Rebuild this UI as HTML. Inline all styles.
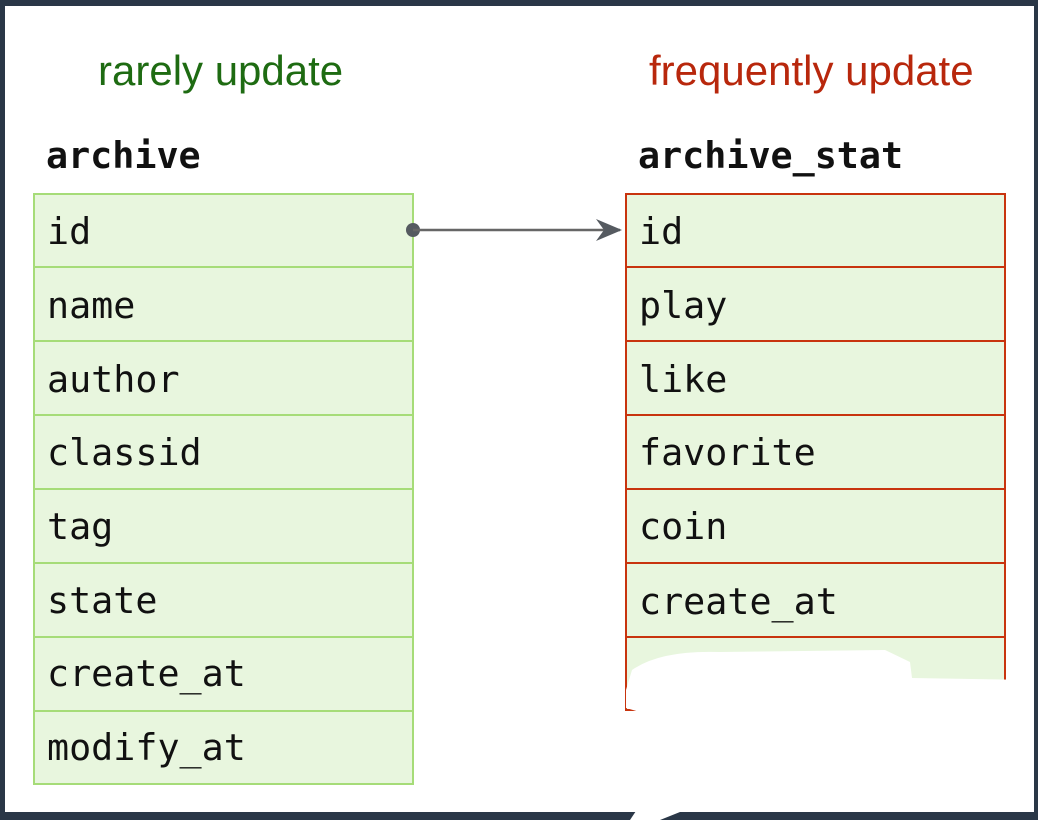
<!DOCTYPE html>
<html><head><style>
html,body{margin:0;padding:0;}
body{width:1038px;height:820px;background:#2a3747;position:relative;overflow:hidden;}
.page{position:absolute;left:5px;top:6px;width:1029px;height:806px;background:#fff;}
.t{position:absolute;font-family:"DejaVu Sans Mono","Liberation Mono",monospace;font-size:36.7px;color:#111;white-space:pre;}
.h{position:absolute;font-family:"Liberation Sans",sans-serif;font-size:42px;white-space:pre;}
.row{position:absolute;background:#e8f6de;box-sizing:border-box;}
.g{border:2px solid #a6dc78;}
.r{border:2px solid #c8340e;}
</style></head><body>
<div class="page"></div>
<div class="h" style="left:98px;top:47px;color:#1e6b12;">rarely update</div>
<div class="h" style="left:649px;top:47px;color:#b8270c;">frequently update</div>
<div class="t" style="left:46px;top:134px;font-weight:bold;">archive</div>
<div class="t" style="left:638px;top:134px;font-weight:bold;">archive_stat</div>

<div class="row g" style="left:33px;top:193px;width:381px;height:75px;"></div>
<div class="row g" style="left:33px;top:266px;width:381px;height:76px;"></div>
<div class="row g" style="left:33px;top:340px;width:381px;height:76px;"></div>
<div class="row g" style="left:33px;top:414px;width:381px;height:76px;"></div>
<div class="row g" style="left:33px;top:488px;width:381px;height:76px;"></div>
<div class="row g" style="left:33px;top:562px;width:381px;height:76px;"></div>
<div class="row g" style="left:33px;top:636px;width:381px;height:76px;"></div>
<div class="row g" style="left:33px;top:710px;width:381px;height:75px;"></div>

<div class="t" style="left:47px;top:210px;">id</div>
<div class="t" style="left:47px;top:284px;">name</div>
<div class="t" style="left:47px;top:358px;">author</div>
<div class="t" style="left:47px;top:431px;">classid</div>
<div class="t" style="left:47px;top:505px;">tag</div>
<div class="t" style="left:47px;top:579px;">state</div>
<div class="t" style="left:47px;top:652px;">create_at</div>
<div class="t" style="left:47px;top:726px;">modify_at</div>

<div class="row r" style="left:625px;top:193px;width:381px;height:75px;"></div>
<div class="row r" style="left:625px;top:266px;width:381px;height:76px;"></div>
<div class="row r" style="left:625px;top:340px;width:381px;height:76px;"></div>
<div class="row r" style="left:625px;top:414px;width:381px;height:76px;"></div>
<div class="row r" style="left:625px;top:488px;width:381px;height:76px;"></div>
<div class="row r" style="left:625px;top:562px;width:381px;height:76px;"></div>
<div class="row r" style="left:625px;top:636px;width:381px;height:75px;"></div>

<div class="t" style="left:639px;top:210px;">id</div>
<div class="t" style="left:639px;top:284px;">play</div>
<div class="t" style="left:639px;top:358px;">like</div>
<div class="t" style="left:639px;top:431px;">favorite</div>
<div class="t" style="left:639px;top:505px;">coin</div>
<div class="t" style="left:639px;top:580px;">create_at</div>

<svg style="position:absolute;left:0;top:0" width="1038" height="820">
<circle cx="413" cy="230" r="7" fill="#555a60"/>
<line x1="413" y1="230" x2="620" y2="230" stroke="#666" stroke-width="2.5"/>
<path d="M596 219 L622 230 L596 241 L604 230 Z" fill="#555a60"/>
<path d="M632 670 Q660 650 720 652 L885 650 L910 662 L912 678 L1034 680 L1034 800 L700 812 L640 812 L650 715 L626 708 L626 690 Z" fill="#fff"/>
<path d="M690 700 L958 700 L958 716 L690 716 Z" fill="#fff"/>
<path d="M640 805 L680 812 L660 820 L630 820 Z" fill="#fff"/>
</svg>
</body></html>
